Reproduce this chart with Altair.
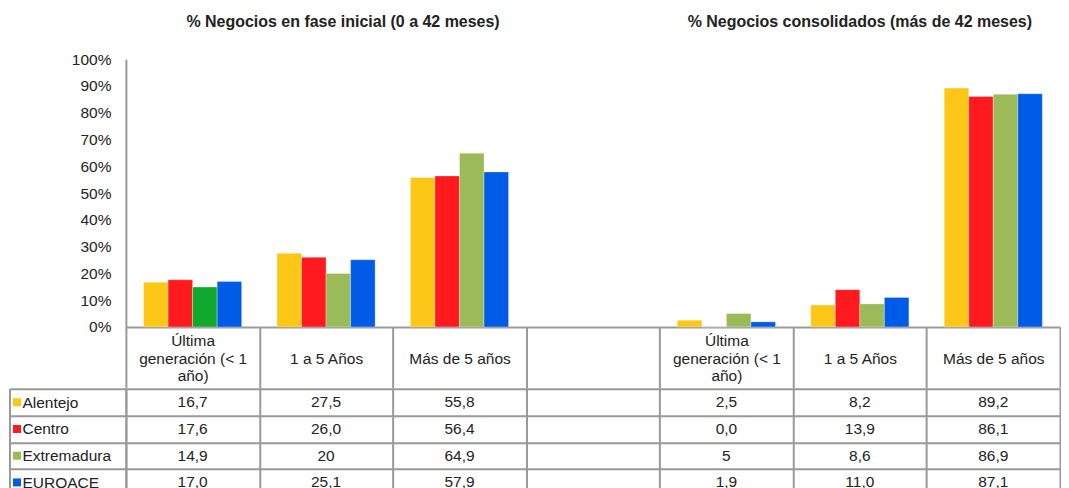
import altair as alt
import pandas as pd

# ---------------- data ----------------
categories = [
    "Última\ngeneración (< 1\naño)",
    "1 a 5 Años",
    "Más de 5 años",
    " ",
    "Última\ngeneración  (< 1\naño)\u200b",
    "1 a 5 Años\u200b",
    "Más de 5 años\u200b",
]
series = ["Alentejo", "Centro", "Extremadura", "EUROACE"]
colors = ["#FDC718", "#FF1A1F", "#9BBB59", "#005CE6"]
highlight_color = "#10A92D"  # first Extremadura bar

# values as shown in the data table ("" = empty column)
alentejo = ["16,7", "27,5", "55,8", "", "2,5", "8,2", "89,2"]
centro = ["17,6", "26,0", "56,4", "", "0,0", "13,9", "86,1"]
extremadura = ["14,9", "20", "64,9", "", "5", "8,6", "86,9"]
euroace = ["17,0", "25,1", "57,9", "", "1,9", "11,0", "87,1"]

panel_titles = ["% Negocios en fase inicial (0 a 42 meses)",
                "% Negocios consolidados (más de 42 meses)"]
title_anchor = [categories[1], categories[5]]

y_ticks = list(range(0, 101, 10))

# ---------------- table building ----------------
rows = []
for s, vals in zip(series, [alentejo, centro, extremadura, euroace]):
    for i, (c, v) in enumerate(zip(categories, vals)):
        if v == "":
            continue
        rows.append({
            "category": c,
            "series": s,
            "label": v,
            "value": float(v.replace(",", ".")),
            "dark": bool(i == 0 and s == "Extremadura"),
        })
df = pd.DataFrame(rows)
df_series = pd.DataFrame({"series": series})
df_title_l = pd.DataFrame({"category": [title_anchor[0]], "title": [panel_titles[0]]})
df_title_r = pd.DataFrame({"category": [title_anchor[1]], "title": [panel_titles[1]]})

FONT = "Liberation Sans"
GRID = "#999999"
TXT = "#222222"
FS = 15.5

LEFT = 118      # width of the legend column of the table
PLOT_W = 935
PLOT_H = 268
TABLE_H = 107

x_scale = alt.Scale(domain=categories, paddingInner=0, paddingOuter=0)
color_scale = alt.Scale(domain=series, range=colors)

label_expr = ("indexof(datum.label, '\\n') >= 0 ? split(datum.label, '\\n') "
              ": ['', datum.label, '']")

# ---------------- bar chart ----------------
bars = alt.Chart(df).mark_bar(stroke="white", strokeWidth=0.6, strokeOpacity=0.5).encode(
    x=alt.X("category:N", scale=x_scale, sort=categories,
            axis=alt.Axis(title=None, tickBand="extent", tickSize=61, tickWidth=2,
                          tickColor=GRID, domainColor=GRID, domainWidth=2,
                          labelAngle=0, labelExpr=label_expr,
                          labelBaseline="middle", labelPadding=-47, labelLineHeight=17.5,
                          labelFontSize=FS, labelFont=FONT, labelColor=TXT,
                          labelLimit=200, minExtent=61, maxExtent=61)),
    xOffset=alt.XOffset("series:N", sort=series,
                        scale=alt.Scale(domain=series, paddingOuter=0.72, paddingInner=0)),
    y=alt.Y("value:Q", scale=alt.Scale(domain=[0, 100]),
            axis=alt.Axis(title=None, values=y_ticks, labelExpr="datum.value + '%'",
                          ticks=False, grid=False, labelPadding=15,
                          domainColor=GRID, domainWidth=2,
                          labelFontSize=FS, labelFont=FONT, labelColor=TXT)),
    color=alt.condition("datum.dark", alt.value(highlight_color),
                        alt.Color("series:N", scale=color_scale, legend=None)),
)

title_l = alt.Chart(df_title_l).mark_text(
    fontSize=16, font=FONT, fontWeight="bold", color=TXT, baseline="middle", dx=17
).encode(x=alt.X("category:N", scale=x_scale, sort=categories), y=alt.value(-37), text="title:N")
title_r = alt.Chart(df_title_r).mark_text(
    fontSize=16, font=FONT, fontWeight="bold", color=TXT, baseline="middle", dx=0
).encode(x=alt.X("category:N", scale=x_scale, sort=categories), y=alt.value(-37), text="title:N")

top = alt.layer(bars, title_l, title_r).properties(width=PLOT_W, height=PLOT_H)

# ---------------- data table ----------------
table_text = alt.Chart(df).mark_text(fontSize=FS, font=FONT, color=TXT, baseline="middle").encode(
    x=alt.X("category:N", scale=x_scale, sort=categories,
            axis=alt.Axis(title=None, labels=False, ticks=False, domain=False, grid=True,
                          tickBand="extent", gridColor=GRID, gridWidth=2, gridOpacity=1)),
    y=alt.Y("series:N", sort=series,
            scale=alt.Scale(domain=series, paddingInner=0, paddingOuter=0),
            axis=alt.Axis(title=None, tickBand="extent", tickSize=LEFT - 2, tickWidth=2,
                          tickColor=GRID, grid=True, gridColor=GRID, gridWidth=2,
                          gridOpacity=1, domainColor=GRID, domainWidth=2,
                          labelAlign="left", labelPadding=-12, labelFontSize=FS,
                          labelFont=FONT, labelColor=TXT, minExtent=LEFT, maxExtent=LEFT)),
    text="label:N",
)

squares = alt.Chart(df_series).mark_square(size=64, opacity=1).encode(
    x=alt.value(-109),
    y=alt.Y("series:N", sort=series),
    color=alt.Color("series:N", scale=color_scale, legend=None),
)

left_border = alt.Chart(df_series.head(1)).mark_rule(color=GRID, strokeWidth=2).encode(
    x=alt.value(-(LEFT - 2)), y=alt.value(0), y2=alt.value(TABLE_H)
)

table = alt.layer(table_text, squares, left_border).properties(width=PLOT_W, height=TABLE_H)

chart = alt.vconcat(top, table, spacing=-8).properties(
    padding={"left": 0, "top": 6, "right": 0, "bottom": 0},
    background="white",
).configure_view(stroke=None)

chart.save("out.html", embed_options={"renderer": "svg", "actions": False})
